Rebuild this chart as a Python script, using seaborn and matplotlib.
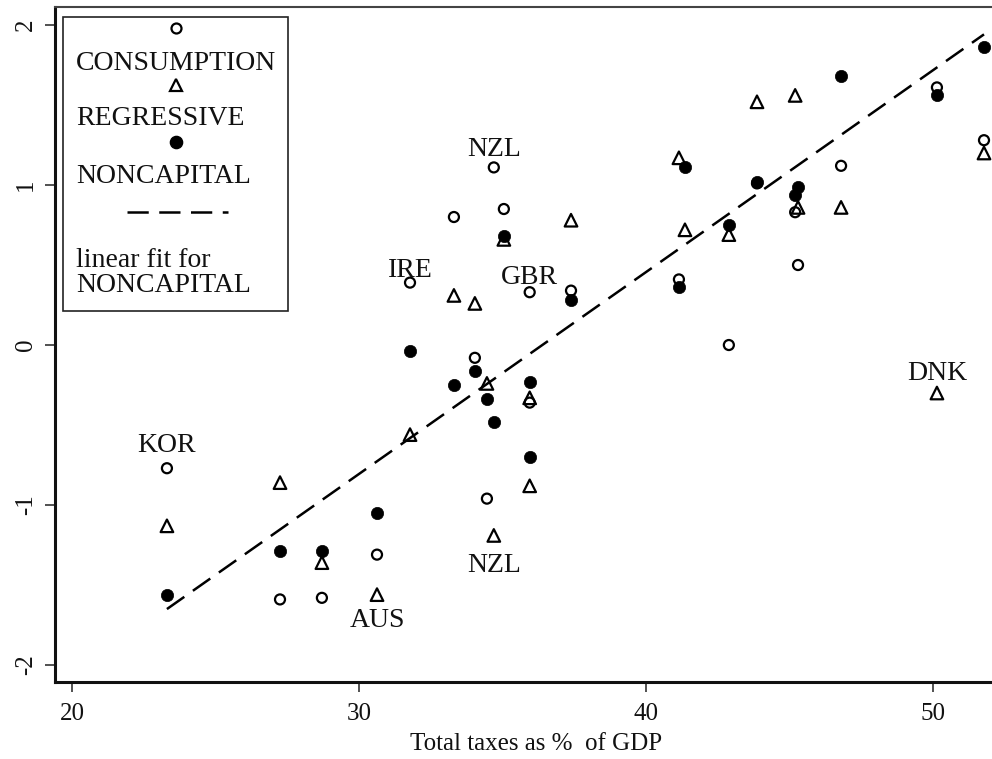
import numpy as np
import pandas as pd
import matplotlib
matplotlib.use('Agg')
import matplotlib.pyplot as plt
from matplotlib.patches import Rectangle
import seaborn as sns

# --- data ---
tax_gdp = [23.31, 27.25, 28.71, 30.63, 31.78, 33.31, 34.04, 34.46, 34.70, 35.05,
           35.95, 35.95, 37.39, 41.15, 41.36, 42.89, 43.87, 45.20, 45.30, 46.80,
           50.14, 51.78]
consumption = [-0.77, -1.59, -1.58, -1.31, 0.39, 0.80, -0.08, -0.96, 1.11, 0.85,
               0.33, -0.36, 0.34, 0.41, np.nan, 0.00, 1.01, 0.83, 0.50, 1.12,
               1.61, 1.28]
regressive = [-1.13, -0.86, -1.36, -1.56, -0.56, 0.31, 0.26, -0.24, -1.19, 0.66,
              -0.33, -0.88, 0.78, 1.17, 0.72, 0.69, 1.52, 1.56, 0.86, 0.86,
              -0.30, 1.20]
noncapital = [-1.56, -1.29, -1.29, -1.05, -0.04, -0.25, -0.16, -0.34, -0.48, 0.68,
              -0.23, -0.70, 0.28, 0.36, 1.11, 0.75, 1.02, 0.94, 0.99, 1.68,
              1.56, 1.86]
cons_labels = ['KOR', '', '', '', 'IRE', '', '', '', 'NZL', '',
               'GBR', '', '', '', '', '', '', '', '', '', '', '']
regr_labels = ['', '', '', 'AUS', '', '', '', '', 'NZL', '',
               '', '', '', '', '', '', '', '', '', '', 'DNK', '']

df = pd.DataFrame({'tax': tax_gdp, 'CONSUMPTION': consumption,
                   'REGRESSIVE': regressive, 'NONCAPITAL': noncapital,
                   'cons_lab': cons_labels, 'regr_lab': regr_labels})

# label offsets in pixels (above = positive)
label_offset = {('cons', 'KOR'): 16, ('cons', 'IRE'): 6, ('cons', 'NZL'): 11,
                ('cons', 'GBR'): 8, ('regr', 'AUS'): -32, ('regr', 'NZL'): -37,
                ('regr', 'DNK'): 13}

sns.set_style('ticks')
plt.rcParams['font.family'] = ['Liberation Serif', 'DejaVu Serif']
plt.rcParams['axes.unicode_minus'] = False

fig = plt.figure(figsize=(9.92, 7.59), dpi=100)
W, H = 992, 759
ax = fig.add_axes([55 / W, (H - 682) / H, 962 / W, 675 / H])

sns.scatterplot(data=df, x='tax', y='CONSUMPTION', ax=ax, marker='o', s=52,
                facecolors='none', edgecolor='black', linewidth=1.6, zorder=3)
sns.scatterplot(data=df, x='tax', y='REGRESSIVE', ax=ax, marker='^', s=82,
                facecolors='none', edgecolor='black', linewidth=1.6, zorder=3)
sns.scatterplot(data=df, x='tax', y='NONCAPITAL', ax=ax, marker='o', s=78,
                color='black', edgecolor='black', linewidth=0.5, zorder=4)
sns.regplot(data=df, x='tax', y='NONCAPITAL', ax=ax, scatter=False, ci=None,
            truncate=True, color='black',
            line_kws={'lw': 1.8, 'ls': (0, (8.5, 4.2)), 'zorder': 2})

# country labels
for col, lab, key in [('CONSUMPTION', 'cons_lab', 'cons'), ('REGRESSIVE', 'regr_lab', 'regr')]:
    for _, r in df[df[lab] != ''].iterrows():
        ax.annotate(r[lab], (r['tax'], r[col]), xytext=(0, label_offset[(key, r[lab])]),
                    textcoords='offset pixels', ha='center', va='baseline',
                    fontsize=20, color='#111111')

ax.set_xlim(19.41, 52.93)
ax.set_ylim(-2.106, 2.1125)
ax.set_xticks([20, 30, 40, 50])
ax.set_yticks([-2, -1, 0, 1, 2])
ax.set_yticklabels(['-2', '-1', '0', '1', '2'], rotation=90, va='center')
ax.tick_params(axis='both', labelsize=18, length=7, width=1.2, color='#333333',
               labelcolor='#111111')
ax.tick_params(axis='x', pad=8)
ax.tick_params(axis='y', pad=6)
ax.set_xlabel('Total taxes as %  of GDP', fontsize=18, color='#111111', labelpad=6)
ax.set_ylabel('')

for side in ['left', 'bottom']:
    ax.spines[side].set_linewidth(2.2)
    ax.spines[side].set_color('#111111')
ax.spines['top'].set_visible(True)
ax.spines['top'].set_linewidth(1.5)
ax.spines['top'].set_color('#444444')
ax.spines['right'].set_visible(False)

# legend drawn by hand in the Stata style (symbol above label)
def px(xp, yp):
    return (xp - 55) / 962, (682 - yp) / 675

x0, y0 = px(63, 311)
x1, y1 = px(288, 17)
ax.add_patch(Rectangle((x0, y0), x1 - x0, y1 - y0, transform=ax.transAxes,
                       fill=True, facecolor='white', edgecolor='#222222', lw=1.2, zorder=5))
mx = px(176, 0)[0]
ax.plot([mx], [px(0, 28)[1]], transform=ax.transAxes, marker='o', ms=7.2,
        mfc='none', mec='black', mew=1.6, zorder=6)
ax.plot([mx], [px(0, 85)[1]], transform=ax.transAxes, marker='^', ms=9.0,
        mfc='none', mec='black', mew=1.6, zorder=6)
ax.plot([mx], [px(0, 142)[1]], transform=ax.transAxes, marker='o', ms=8.8,
        mfc='black', mec='black', zorder=6)
ax.plot([px(127, 0)[0], px(228, 0)[0]], [px(0, 212)[1]] * 2, transform=ax.transAxes,
        color='black', lw=1.8, ls=(0, (8.5, 4.2)), zorder=6)
tx = px(76, 0)[0]
for txt, yb in [('CONSUMPTION', 70), ('REGRESSIVE', 125), ('NONCAPITAL', 183),
                ('linear fit for', 267), ('NONCAPITAL', 292)]:
    ax.text(tx, px(0, yb)[1], txt, transform=ax.transAxes, ha='left', va='baseline',
            fontsize=20, color='#111111', zorder=6)

fig.savefig('out.png', dpi=100)
